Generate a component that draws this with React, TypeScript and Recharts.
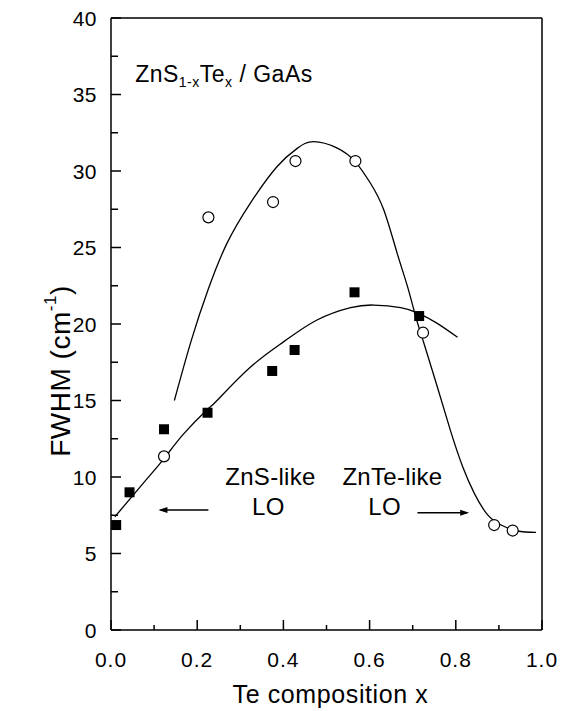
import React from 'react'
import {
  ComposedChart,
  Line,
  Scatter,
  XAxis,
  YAxis,
  ReferenceLine,
  ReferenceDot,
} from 'recharts'

// axis ticks
const xTicks = [0, 0.1, 0.2, 0.3, 0.4, 0.5, 0.6, 0.7, 0.8, 0.9, 1.0]
const yTicks = [0, 2.5, 5, 7.5, 10, 12.5, 15, 17.5, 20, 22.5, 25, 27.5, 30, 32.5, 35, 37.5, 40]
const yLabelTicks = [0, 5, 10, 15, 20, 25, 30, 35, 40]
const xLabelTicks = [0, 0.2, 0.4, 0.6, 0.8, 1.0]

// ZnS-like LO mode (filled squares)
const znsLikeX = [0.012, 0.043, 0.123, 0.224, 0.374, 0.426, 0.565, 0.715]
const znsLikeY = [6.86, 9.0, 13.12, 14.2, 16.93, 18.3, 22.07, 20.52]

// ZnTe-like LO mode (open circles)
const znteLikeX = [0.123, 0.226, 0.376, 0.428, 0.567, 0.724, 0.889, 0.932]
const znteLikeY = [11.35, 26.97, 27.97, 30.65, 30.65, 19.43, 6.86, 6.5]

// guide curves
const lowerFitX = [0.009, 0.075, 0.123, 0.168, 0.223, 0.246, 0.323, 0.401, 0.478, 0.556, 0.61, 0.672, 0.714, 0.757, 0.804]
const lowerFitY = [7.4, 9.6, 11.2, 12.8, 14.4, 15.0, 17.17, 18.85, 20.26, 21.07, 21.24, 21.07, 20.7, 20.04, 19.13]

const upperFitX = [0.147, 0.186, 0.226, 0.269, 0.323, 0.385, 0.432, 0.47, 0.525, 0.567, 0.602, 0.633, 0.664, 0.688, 0.707, 0.726, 0.757, 0.788, 0.816, 0.843, 0.874, 0.905, 0.943, 0.986]
const upperFitY = [15.0, 18.9, 22.3, 25.27, 27.89, 30.28, 31.48, 31.92, 31.5, 30.6, 29.2, 27.45, 24.62, 22.44, 20.48, 18.74, 15.9, 13.0, 10.67, 8.93, 7.52, 6.86, 6.47, 6.38]

const zip = (xs: number[], ys: number[]) => xs.map((x, i) => ({ x, y: ys[i] }))

const squares = zip(znsLikeX, znsLikeY)
const circles = zip(znteLikeX, znteLikeY)
const lowerFit = zip(lowerFitX, lowerFitY)
const upperFit = zip(upperFitX, upperFitY)

const FONT = '"Liberation Sans", Arial, Helvetica, sans-serif'

const YTick = (props: any) => {
  const { x, y, payload } = props
  const v = payload.value
  const major = yLabelTicks.includes(v)
  const ax = x + 14
  return (
    <g>
      <line x1={ax} x2={ax + (major ? 10 : 7)} y1={y} y2={y} stroke="#000" strokeWidth={1.5} />
      {major && (
        <text x={x} y={y} textAnchor="end" dominantBaseline="central" fontSize={21} fontFamily={FONT} fill="#000" letterSpacing={0.5}>
          {v}
        </text>
      )}
    </g>
  )
}

const XTick = (props: any) => {
  const { x, y, payload } = props
  const v = payload.value
  const major = xLabelTicks.some((t) => Math.abs(t - v) < 1e-6)
  return (
    <g>
      <line x1={x} x2={x} y1={y} y2={y - (major ? 10 : 5)} stroke="#000" strokeWidth={1.5} />
      {major && (
        <text x={x} y={y + 29} textAnchor="middle" dominantBaseline="central" fontSize={21} fontFamily={FONT} fill="#000" letterSpacing={1}>
          {v.toFixed(1)}
        </text>
      )}
    </g>
  )
}

const SquareDot = (props: any) => {
  const { cx, cy } = props
  return <rect x={cx - 5} y={cy - 5} width={10} height={10} fill="#000" />
}

const CircleDot = (props: any) => {
  const { cx, cy } = props
  return <circle cx={cx} cy={cy} r={5.5} fill="#fff" stroke="#000" strokeWidth={1.2} />
}

const label = (text: string, size = 24) => (props: any) => (
  <text x={props.cx} y={props.cy} textAnchor="middle" dominantBaseline="central" fontSize={size} fontFamily={FONT} fill="#000" letterSpacing={0.3}>
    {text}
  </text>
)

const arrowHead = (dir: number) => (props: any) => {
  const { cx, cy } = props
  return <path d={`M${cx},${cy} L${cx - dir * 9},${cy - 3} L${cx - dir * 9},${cy + 3} Z`} fill="#000" />
}

const Title = (props: any) => (
  <text x={props.cx} y={props.cy} fontSize={23} fontFamily={FONT} fill="#000" letterSpacing={0.5}>
    ZnS
    <tspan fontSize={14} dy={5}>1-x</tspan>
    <tspan dy={-5}>Te</tspan>
    <tspan fontSize={14} dy={5}>x</tspan>
    <tspan dy={-5}> / GaAs</tspan>
  </text>
)

const App: React.FC = () => {
  return (
    <div style={{ position: 'absolute', left: 0, top: 0, background: '#fff' }}>
      <ComposedChart width={563} height={711} margin={{ top: 18, right: 21, bottom: 0, left: 0 }}>
        <XAxis
          type="number"
          dataKey="x"
          domain={[0, 1]}
          ticks={xTicks}
          tick={<XTick />}
          tickLine={false}
          tickSize={0}
          tickMargin={0}
          height={81}
          axisLine={{ stroke: '#000', strokeWidth: 1.5 }}
          allowDataOverflow
          label={{
            content: (p: any) => (
              <text
                x={p.viewBox.x + p.viewBox.width / 2 + 4}
                y={694}
                textAnchor="middle"
                dominantBaseline="central"
                fontSize={25}
                fontFamily={FONT}
                letterSpacing={0.6}
                fill="#000"
              >
                Te composition x
              </text>
            ),
          }}
        />
        <YAxis
          type="number"
          dataKey="y"
          domain={[0, 40]}
          ticks={yTicks}
          tick={<YTick />}
          tickLine={false}
          tickSize={0}
          tickMargin={14}
          width={111}
          axisLine={{ stroke: '#000', strokeWidth: 1.5 }}
          allowDataOverflow
          label={{
            content: () => (
              <text
                transform="translate(60,371) rotate(-90)"
                textAnchor="middle"
                dominantBaseline="central"
                fontSize={28}
                fontFamily={FONT}
                letterSpacing={0.5}
                fill="#000"
              >
                FWHM (cm
                <tspan fontSize={17} dy={-10}>-1</tspan>
                <tspan dy={10}>)</tspan>
              </text>
            ),
          }}
        />
        <ReferenceLine y={40} stroke="#000" strokeWidth={1.5} />
        <ReferenceLine x={1} stroke="#000" strokeWidth={1.5} />

        <Line data={lowerFit} dataKey="y" type="natural" stroke="#000" strokeWidth={1.3} dot={false} isAnimationActive={false} />
        <Line data={upperFit} dataKey="y" type="natural" stroke="#000" strokeWidth={1.3} dot={false} isAnimationActive={false} />

        <Scatter data={squares} dataKey="y" shape={<SquareDot />} isAnimationActive={false} />
        <Scatter data={circles} dataKey="y" shape={<CircleDot />} isAnimationActive={false} />

        <ReferenceDot x={0.056} y={35.8} r={0} shape={Title} />
        <ReferenceDot x={0.37} y={10.02} r={0} shape={label('ZnS-like')} />
        <ReferenceDot x={0.365} y={8.06} r={0} shape={label('LO')} />
        <ReferenceDot x={0.653} y={10.02} r={0} shape={label('ZnTe-like')} />
        <ReferenceDot x={0.635} y={8.06} r={0} shape={label('LO')} />

        <ReferenceLine segment={[{ x: 0.226, y: 7.84 }, { x: 0.115, y: 7.84 }]} stroke="#000" strokeWidth={1.5} />
        <ReferenceDot x={0.11} y={7.84} r={0} shape={arrowHead(-1)} />
        <ReferenceLine segment={[{ x: 0.711, y: 7.67 }, { x: 0.826, y: 7.67 }]} stroke="#000" strokeWidth={1.5} />
        <ReferenceDot x={0.831} y={7.67} r={0} shape={arrowHead(1)} />
      </ComposedChart>
    </div>
  )
}

export default App
